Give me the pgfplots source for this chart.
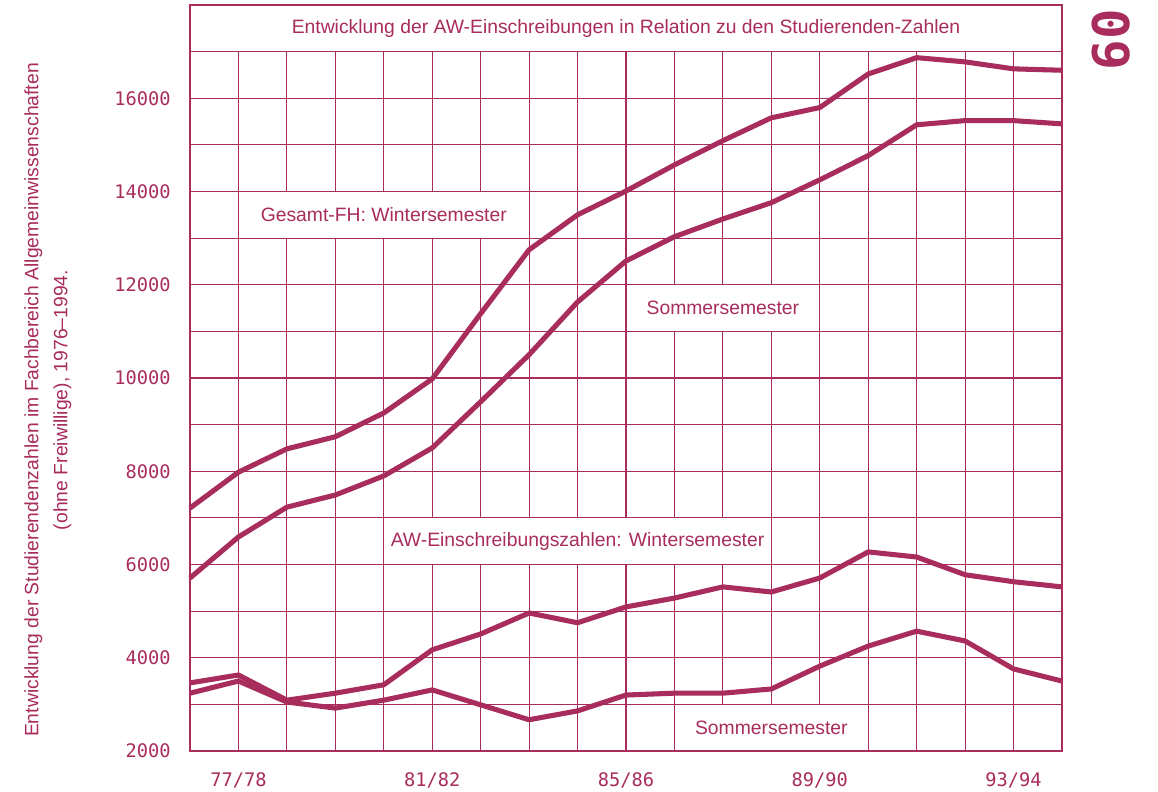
\documentclass[border=0pt]{standalone}
\usepackage{pgfplots}
\pgfplotsset{compat=1.18}
\usepackage{fontspec}
\setmainfont{Liberation Sans}
\newfontfamily\monofont{DejaVu Sans Mono}
\definecolor{aw}{RGB}{168,44,92}

% Gesamt-FH, Wintersemester
\pgfplotstableread{
x y
0 7210
1 7980
2 8480
3 8740
4 9250
5 9980
6 11380
7 12750
8 13500
9 14010
10 14570
11 15090
12 15580
13 15800
14 16520
15 16870
16 16780
17 16630
18 16600
}\fhwinter

% Gesamt-FH, Sommersemester
\pgfplotstableread{
x y
0 5710
1 6590
2 7230
3 7490
4 7900
5 8500
6 9490
7 10500
8 11630
9 12510
10 13030
11 13410
12 13760
13 14250
14 14770
15 15430
16 15520
17 15520
18 15450
}\fhsommer

% AW-Einschreibungen, Wintersemester
\pgfplotstableread{
x y
0 3460
1 3630
2 3090
3 3240
4 3420
5 4170
6 4510
7 4960
8 4750
9 5090
10 5280
11 5520
12 5410
13 5710
14 6270
15 6160
16 5780
17 5630
18 5520
}\awwinter

% AW-Einschreibungen, Sommersemester
\pgfplotstableread{
x y
0 3240
1 3500
2 3050
3 2920
4 3090
5 3310
6 2990
7 2670
8 2860
9 3200
10 3240
11 3240
12 3330
13 3820
14 4250
15 4570
16 4360
17 3760
18 3500
}\awsommer

\begin{document}
\begin{tikzpicture}[x=0.75pt,y=0.75pt]
\useasboundingbox (0,0) rectangle (1158,792);
\begin{axis}[
  at={(142.5pt,30.75pt)}, anchor=south west,
  scale only axis, width=654pt, height=559.5pt,
  xmin=0, xmax=18, ymin=2000, ymax=18000,
  xtick={1,5,9,13,17},
  xticklabels={77/78,81/82,85/86,89/90,93/94},
  minor xtick={0,...,18},
  ytick={2000,4000,...,16000},
  yticklabels={2000,4000,6000,8000,10000,12000,14000,16000},
  minor ytick={3000,5000,...,17000},
  major tick length=0pt, minor tick length=0pt,
  grid=both,
  major grid style={aw, line width=0.9pt},
  minor grid style={aw, line width=0.9pt},
  axis line style={aw, line width=0.9pt},
  ticklabel style={font=\monofont\fontsize{14}{16}\selectfont, text=aw},
  yticklabel style={xshift=-11pt},
  xticklabel style={yshift=-13pt},
  clip=false,
]
% Titelzeile
\filldraw[fill=white, draw=aw, line width=0.9pt] (axis cs:0,17000) rectangle (axis cs:18,18000);
\node[text=aw, font=\fontsize{14.5}{17}\selectfont] at (axis cs:9,17500) {Entwicklung der AW-Einschreibungen in Relation zu den Studierenden-Zahlen};

% Beschriftungsfelder
\filldraw[fill=white, draw=aw, line width=0.9pt] (axis cs:1,13000) rectangle (axis cs:7,14000);
\filldraw[fill=white, draw=aw, line width=0.9pt] (axis cs:9,11000) rectangle (axis cs:13,12000);
\filldraw[fill=white, draw=aw, line width=0.9pt] (axis cs:4,6000) rectangle (axis cs:12,7000);
\filldraw[fill=white, draw=aw, line width=0.9pt] (axis cs:10,2000) rectangle (axis cs:14,3000);

\addplot[aw, line width=3.8pt, line join=round] table {\fhwinter};
\addplot[aw, line width=3.8pt, line join=round] table {\fhsommer};
\addplot[aw, line width=3.8pt, line join=round] table {\awwinter};
\addplot[aw, line width=3.8pt, line join=round] table {\awsommer};

\begin{scope}[every node/.style={text=aw, font=\fontsize{14.5}{17}\selectfont}]
\node at (axis cs:4,13500) {Gesamt-FH: Wintersemester};
\node at (axis cs:11,11500) {Sommersemester};
\node at (axis cs:8,6500) {AW-Einschreibungszahlen: Wintersemester};
\node at (axis cs:12,2500) {Sommersemester};
\end{scope}

\draw[aw, line width=0.9pt] (rel axis cs:0,0) rectangle (rel axis cs:1,1);
\end{axis}

\node[rotate=90, align=center, text=aw, font=\fontsize{14.5}{21.75}\selectfont] at (48,392)
  {Entwicklung der Studierendenzahlen im Fachbereich Allgemeinwissenschaften\\(ohne Freiwillige), 1976--1994.};
\node[rotate=90, text=aw, font=\monofont\bfseries\fontsize{38}{40}\selectfont] at (1111,752) {60};
\end{tikzpicture}
\end{document}
